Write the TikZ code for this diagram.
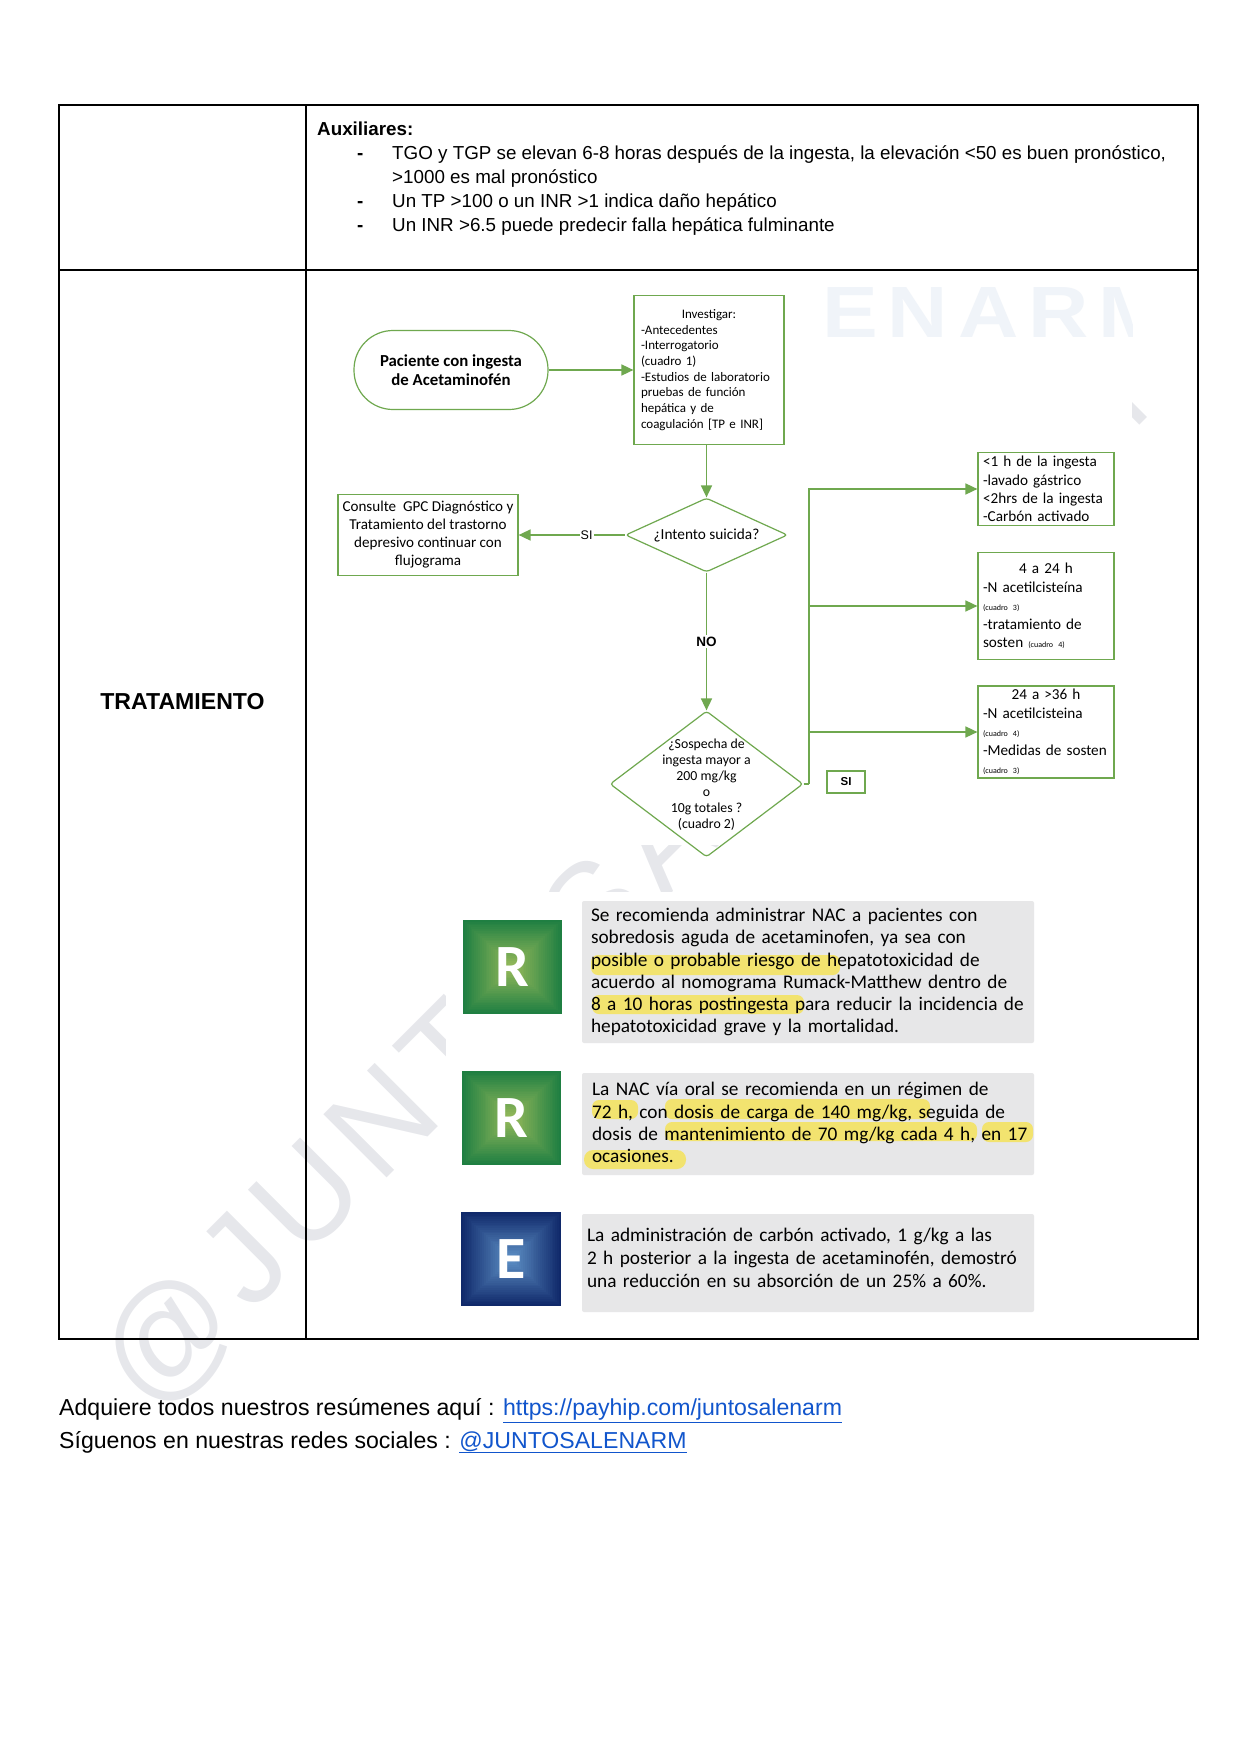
\documentclass[tikz,border=0pt]{standalone}
\usepackage{fontspec}
\setmainfont{Liberation Sans}
\newfontfamily\carlito{Carlito}
\newfontfamily\marca[LetterSpace=12]{Liberation Sans}
\newfontfamily\agua[LetterSpace=8.5]{Liberation Sans}
\usetikzlibrary{arrows.meta,shapes.geometric}
\definecolor{verde}{HTML}{6FA84F}
\definecolor{gris}{HTML}{E7E7E8}
\definecolor{resalte}{HTML}{F2E36F}
\definecolor{sello}{HTML}{E6E7EB}
\definecolor{enlace}{HTML}{1155CC}
\definecolor{palido}{HTML}{F0F4F9}
\definecolor{rborde}{HTML}{1F7F42}
\definecolor{rcentro}{HTML}{93B85A}
\definecolor{eborde}{HTML}{10296A}
\definecolor{ecentro}{HTML}{5C8EC4}
\newcommand{\chico}[1]{{\fontsize{8}{8}\selectfont #1}}
\newcommand{\centrada}[1]{\makebox[126pt][c]{#1}}
\newcommand{\linea}[2]{\makebox[#1pt][s]{#2}}
\newcommand{\cuadro}[7]{% x0 y0 x1 y1 borde centro letra
    \foreach \i in {0,...,24} {
        \pgfmathsetmacro\f{\i*0.019}
        \pgfmathsetmacro\m{\i*4}
        \fill[#6!\m!#5] ({#1+\f*(#3-#1)},{#2+\f*(#4-#2)}) rectangle ({#3-\f*(#3-#1)},{#4-\f*(#4-#2)});
    }
    \node[letra] at ({(#1+#3)/2},{(#2+#4)/2}) {#7};
}
\tikzset{
    caja/.style={draw=verde, line width=1.2pt, inner sep=0pt, font=\carlito\fontsize{15.2}{18.4}\selectfont},
    rombo/.style={diamond, draw=verde, line width=1.2pt, inner sep=0pt, rounded corners=3pt},
    flecha/.style={draw=verde, line width=1.6pt, -{Triangle[length=12pt,width=11pt]}},
    tramo/.style={draw=verde, line width=1.6pt},
    fondo/.style={fill=gris, rounded corners=2pt, inner sep=0pt},
    parrafo/.style={inner sep=0pt, align=left, font=\carlito\fontsize{19.3}{22.1}\selectfont},
    marcado/.style={fill=resalte, rounded corners=7pt},
    letra/.style={text=white, font=\carlito\bfseries\fontsize{60}{60}\selectfont},
    pagina/.style={anchor=base west, inner sep=0pt, font=\fontsize{23.1}{23.1}\selectfont}
}
\begin{document}
\begin{tikzpicture}[x=1pt, y=-1pt, >=stealth]
    \useasboundingbox (0,0) rectangle (1242,1755);
    % watermark
    \node[anchor=base west, inner sep=0pt, rotate=45, text=sello, font=\agua\fontsize{130}{130}\selectfont] (marcaagua) at (150,1415) {@JUNTOSALENARM};
    \fill[white] (310,275) rectangle (1132,845);
    \fill[white] (446,892) rectangle (1050,1336);
    \begin{scope}
        \clip (810,275) rectangle (1132,345);
        \node[anchor=base west, inner sep=0pt, xscale=1.15, text=palido, font=\marca\bfseries\fontsize{72.6}{72.6}\selectfont] (enarm) at (822,337) {ENARM};
    \end{scope}
    % table
    \draw[line width=2pt] (59,105) rectangle (1198,1339);
    \draw[line width=2pt] (59,270) -- (1198,270);
    \draw[line width=2pt] (305.5,105) -- (305.5,1339);
    \node[inner sep=0pt, font=\bfseries\fontsize{23.1}{23.1}\selectfont] (tratamiento) at (182.5,702) {TRATAMIENTO};
    \node[anchor=north west, inner sep=0pt, align=left, font=\fontsize{18.8}{24}\selectfont] (auxiliares) at (317,122) {\textbf{Auxiliares:}\\
        \hspace*{40pt}\makebox[35pt][l]{\textbf{-}}TGO y TGP se elevan 6-8 horas después de la ingesta, la elevación <50 es buen pronóstico,\\
        \hspace*{75pt}>1000 es mal pronóstico\\
        \hspace*{40pt}\makebox[35pt][l]{\textbf{-}}Un TP >100 o un INR >1 indica daño hepático\\
        \hspace*{40pt}\makebox[35pt][l]{\textbf{-}}Un INR >6.5 puede predecir falla hepática fulminante};
    % flow
    \node[caja, rounded corners=39pt, minimum width=194pt, minimum height=79pt, align=center, font=\carlito\bfseries\fontsize{16.8}{19.5}\selectfont] (paciente) at (451,370) {Paciente con ingesta\\de Acetaminofén};
    \node[caja, minimum width=150pt, minimum height=149pt, text width=136pt, align=left, font=\carlito\fontsize{13}{15.7}\selectfont] (investigar) at (709,370) {\makebox[136pt][c]{Investigar:}\\-Antecedentes\\-Interrogatorio\\(cuadro 1)\\-Estudios de laboratorio\\pruebas de función\\hepática y de\\coagulación [TP e INR]};
    \node[caja, minimum width=180pt, minimum height=81.5pt, align=center, font=\carlito\fontsize{15.1}{18}\selectfont] (consulte) at (428,535) {Consulte~ GPC Diagnóstico y\\Tratamiento del trastorno\\depresivo continuar con\\flujograma};
    \node[rombo, minimum width=162pt, minimum height=74pt] (suicida) at (706.5,535) {};
    \node[inner sep=0pt, font=\carlito\fontsize{15.3}{15.3}\selectfont] (suicidatxt) at (suicida) {¿Intento suicida?};
    \node[rombo, minimum width=193pt, minimum height=146pt] (sospecha) at (706.5,784) {};
    \node[inner sep=0pt, align=center, font=\carlito\fontsize{13.8}{16}\selectfont] (sospechatxt) at (706.5,785) {¿Sospecha de\\ingesta mayor a\\200 mg/kg\\o\\10g totales ?\\(cuadro 2)};
    \node[caja, minimum width=136pt, minimum height=73pt, text width=126pt, align=left] (caja1) at (1046,489) {<1 h de la ingesta\\-lavado gástrico\\<2hrs de la ingesta\\-Carbón activado};
    \node[caja, minimum width=136pt, minimum height=107pt, text width=126pt, align=left] (caja2) at (1046,606) {\centrada{4 a 24 h}\\-N acetilcisteína\\\chico{(cuadro 3)}\\-tratamiento de\\sosten \chico{(cuadro 4)}};
    \node[caja, minimum width=136pt, minimum height=92pt, text width=126pt, align=left] (caja3) at (1046,732) {\centrada{24 a >36 h}\\-N acetilcisteina\\\chico{(cuadro 4)}\\-Medidas de sosten\\\chico{(cuadro 3)}};
    \node[caja, minimum width=38pt, minimum height=22pt, font=\bfseries\fontsize{11.5}{11.5}\selectfont] (si) at (846,782) {SI};
    \coordinate (tronco) at (809,784);
    \draw[flecha] (paciente) -- (investigar);
    \draw[flecha] (suicida.north |- investigar.south) -- (suicida.north);
    \draw[flecha] (suicida) -- node[pos=0.36, fill=white, inner sep=1pt, font=\fontsize{12.5}{12.5}\selectfont] {SI} (consulte);
    \draw[flecha] (suicida) -- node[fill=white, inner sep=2pt, font=\bfseries\fontsize{13.5}{13.5}\selectfont] {NO} (sospecha);
    \draw[tramo] (sospecha.east) -- (tronco);
    \foreach \destino in {caja1,caja2,caja3} {
        \draw[flecha] (tronco) |- (\destino);
    }
    % recommendations
    \cuadro{463}{920}{562}{1014}{rborde}{rcentro}{R}
    \cuadro{462}{1071}{561}{1165}{rborde}{rcentro}{R}
    \cuadro{461}{1212}{561}{1306}{eborde}{ecentro}{E}
    \node[fondo, minimum width=452pt, minimum height=142pt] (gris1) at (808,972) {};
    \node[fondo, minimum width=452pt, minimum height=102pt] (gris2) at (808,1124) {};
    \node[fondo, minimum width=452pt, minimum height=98pt] (gris3) at (808,1263) {};
    \fill[marcado] (591,955) rectangle (840,975);
    \fill[marcado] (592,995) rectangle (804,1014);
    \fill[marcado] (592,1100) rectangle (638,1119);
    \fill[marcado] (665,1099) rectangle (930,1119);
    \fill[marcado] (665,1122) rectangle (977,1141);
    \fill[marcado] (982,1122) rectangle (1033,1142);
    \fill[marcado, rounded corners=9pt] (584,1150) rectangle (686,1169);
    \node[parrafo, text width=434pt] (texto1) at (808,972) {\linea{434}{Se recomienda administrar NAC a pacientes con}\\\linea{434}{sobredosis aguda de acetaminofen, ya sea con}\\\linea{434}{posible o probable riesgo de hepatotoxicidad de}\\\linea{434}{acuerdo al nomograma Rumack-Matthew dentro de}\\\linea{434}{8 a 10 horas postingesta para reducir la incidencia de}\\hepatotoxicidad grave y la mortalidad.};
    \node[parrafo, text width=438pt] (texto2) at (811,1122.5) {\linea{438}{La NAC vía oral se recomienda en un régimen de}\\\linea{438}{72 h, con dosis de carga de 140 mg/kg, seguida de}\\\linea{438}{dosis de mantenimiento de 70 mg/kg cada 4 h, en 17}\\ocasiones.};
    \node[parrafo, text width=441pt, font=\carlito\fontsize{19.3}{23}\selectfont] (texto3) at (807.5,1258) {\linea{441}{La administración de carbón activado, 1 g/kg a las}\\\linea{441}{2 h posterior a la ingesta de acetaminofén, demostró}\\una reducción en su absorción de un 25\% a 60\%.};
    % footer
    \node[pagina] (adquiere) at (59,1415.5) {Adquiere todos nuestros resúmenes aquí : \textcolor{enlace}{\underline{https://payhip.com/juntosalenarm}}};
    \node[pagina] (siguenos) at (59,1448) {Síguenos en nuestras redes sociales : \textcolor{enlace}{\underline{@JUNTOSALENARM}}};
\end{tikzpicture}
\end{document}
